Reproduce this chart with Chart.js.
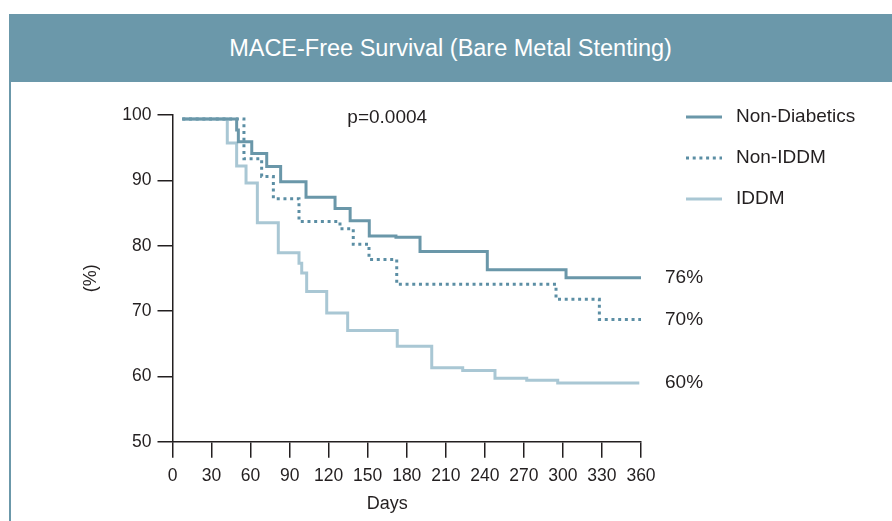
<!DOCTYPE html>
<html>
<head>
<meta charset="utf-8">
<script src="https://cdn.jsdelivr.net/npm/chart.js@4.4.1/dist/chart.umd.min.js"></script>
<style>
  html, body { margin: 0; padding: 0; background: #fff; }
  body { width: 892px; height: 521px; position: relative; overflow: hidden; font-family: "Liberation Sans", Arial, sans-serif; }
  #frame { position: absolute; left: 9px; top: 14px; width: 890px; height: 520px; border-left: 2px solid #6b98aa; }
  #title { position: absolute; left: 9px; top: 14px; width: 883px; height: 68px; background: #6b98aa; color: #fff;
           font-size: 23.5px; line-height: 68px; text-align: center; }
  #chart { position: absolute; left: 0; top: 0; }
</style>
</head>
<body>
<div id="frame"></div>
<div id="title">MACE-Free Survival (Bare Metal Stenting)</div>
<canvas id="chart" width="892" height="521"></canvas>
<script>
// x ticks (days) and y ticks (%)
const dayTicks = [0, 30, 60, 90, 120, 150, 180, 210, 240, 270, 300, 330, 360];
const percentTicks = [50, 60, 70, 80, 90, 100];

const seriesNames = ['Non-Diabetics', 'Non-IDDM', 'IDDM'];
const endLabels = ['76%', '70%', '60%'];
const pValue = 'p=0.0004';

// step curves: day where a step starts, survival value from that day on
const nonDiabeticDays = [7.5, 49.3, 50.6, 60.9, 72.4, 83.1, 102.6, 124.9, 136.5, 151.2, 171.7, 190.2, 241.9, 302.4, 360];
const nonDiabeticSurv = [99.4, 97.7, 95.9, 94.1, 92.1, 89.8, 87.4, 85.7, 83.8, 81.5, 81.3, 79.1, 76.3, 75.1, 75.1];

const nonIddmDays = [7.5, 54.9, 68.5, 77.5, 97.2, 128.7, 138.9, 151, 172.3, 294.7, 328, 360];
const nonIddmSurv = [99.4, 93.3, 90.6, 87.2, 83.7, 82.6, 80.2, 77.9, 74.1, 71.8, 68.7, 68.7];

const iddmDays = [7.5, 42.1, 49.3, 56.5, 65.2, 81.3, 97.2, 99.3, 103.1, 118.5, 134.6, 172.7, 199.2, 223, 247.8, 272.2, 296, 358.7];
const iddmSurv = [99.4, 95.7, 92.2, 89.6, 83.5, 78.9, 77.3, 75.8, 73.0, 69.7, 67.0, 64.6, 61.3, 60.9, 59.7, 59.4, 59.0, 59.0];

const colors = {
    dark: '#6a97a9',
    dotted: '#5b8ea4',
    light: '#a9c7d4',
    text: '#231f20'
};
const fontFamily = '"Liberation Sans", Arial, sans-serif';

const toPoints = (days, vals) => days.map((d, i) => ({ x: d, y: vals[i] }));

function noOverhang(scale) {
    scale.paddingLeft = 0;
    scale.paddingRight = 0;
    scale.paddingTop = 0;
    scale.paddingBottom = 0;
}

// legend, end values, p value and x title
const notes = {
    id: 'notes',
    afterDraw(chart) {
        const { ctx, chartArea, scales } = chart;
        const x = scales.x, y = scales.y;
        ctx.save();
        ctx.fillStyle = colors.text;
        ctx.textBaseline = 'middle';
        ctx.font = '19px ' + fontFamily;

        chart.data.datasets.forEach((ds, i) => {
            const ly = chartArea.top + 2 + i * 41;
            ctx.save();
            ctx.strokeStyle = ds.borderColor;
            ctx.lineWidth = ds.borderWidth;
            ctx.setLineDash(ds.borderDash || []);
            ctx.beginPath();
            ctx.moveTo(chartArea.right + 45, ly);
            ctx.lineTo(chartArea.right + 81, ly);
            ctx.stroke();
            ctx.restore();
            ctx.textAlign = 'left';
            ctx.fillText(ds.label, chartArea.right + 95, ly);

            const last = ds.data[ds.data.length - 1];
            ctx.fillText(endLabels[i], chartArea.right + 24, y.getPixelForValue(last.y));
        });

        ctx.textAlign = 'center';
        ctx.fillText(pValue, x.getPixelForValue(165), chartArea.top + 3);
        ctx.font = '18px ' + fontFamily;
        ctx.fillText('Days', x.getPixelForValue(165), 504);
        ctx.restore();
    }
};

const ctx = document.getElementById('chart').getContext('2d');
new Chart(ctx, {
    type: 'line',
    data: {
        datasets: [
            {
                label: seriesNames[0],
                data: toPoints(nonDiabeticDays, nonDiabeticSurv),
                borderColor: colors.dark,
                borderWidth: 3,
                stepped: true,
                pointRadius: 0,
                fill: false
            },
            {
                label: seriesNames[1],
                data: toPoints(nonIddmDays, nonIddmSurv),
                borderColor: colors.dotted,
                borderWidth: 3,
                borderDash: [3, 3.7],
                borderCapStyle: 'butt',
                stepped: true,
                pointRadius: 0,
                fill: false
            },
            {
                label: seriesNames[2],
                data: toPoints(iddmDays, iddmSurv),
                borderColor: colors.light,
                borderWidth: 3,
                stepped: true,
                pointRadius: 0,
                fill: false
            }
        ]
    },
    options: {
        responsive: false,
        animation: false,
        devicePixelRatio: 1,
        layout: { padding: { left: 80, top: 115, right: 251, bottom: 0 } },
        plugins: {
            legend: { display: false },
            tooltip: { enabled: false }
        },
        scales: {
            x: {
                type: 'linear',
                min: 0,
                max: 360,
                afterBuildTicks: (scale) => { scale.ticks = dayTicks.map(v => ({ value: v })); },
                afterFit: (scale) => { scale.height = 79.3; noOverhang(scale); },
                grid: { drawOnChartArea: false, drawTicks: true, tickLength: 16, color: colors.text, lineWidth: 1.5 },
                border: { display: true, color: colors.text, width: 1.5 },
                ticks: {
                    autoSkip: false,
                    maxRotation: 0,
                    padding: 8,
                    color: colors.text,
                    font: { family: fontFamily, size: 17.5 }
                }
            },
            y: {
                min: 50,
                max: 100,
                afterBuildTicks: (scale) => { scale.ticks = percentTicks.map(v => ({ value: v })); },
                afterFit: (scale) => { scale.width = 92.5; noOverhang(scale); },
                grid: { drawOnChartArea: false, drawTicks: true, tickLength: 15, color: colors.text, lineWidth: 1.5 },
                border: { display: true, color: colors.text, width: 1.5 },
                ticks: {
                    padding: 6,
                    color: colors.text,
                    font: { family: fontFamily, size: 17.5 }
                },
                title: {
                    display: true,
                    text: '(%)',
                    padding: 0,
                    color: colors.text,
                    font: { family: fontFamily, size: 18 }
                }
            }
        }
    },
    plugins: [notes]
});
</script>
</body>
</html>
